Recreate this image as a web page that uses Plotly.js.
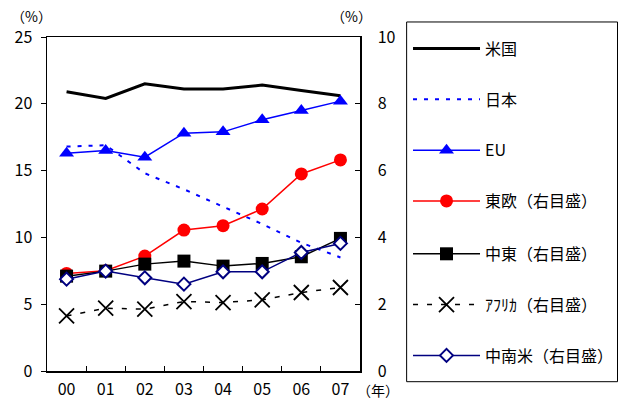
<!DOCTYPE html>
<html>
<head>
<meta charset="utf-8">
<script src="https://cdn.plot.ly/plotly-3.0.1.min.js"></script>
<style>html,body{margin:0;padding:0;background:#fff;}#chart{width:618px;height:399px;}</style>
</head>
<body>
<div id="chart"></div>
<script>
// Data
var years = ['00', '01', '02', '03', '04', '05', '06', '07'];
var usa = [20.9, 20.4, 21.5, 21.1, 21.1, 21.4, 21.0, 20.6];          // left axis
var japan = [16.8, 16.9, 14.8, 13.6, 12.3, 11.0, 9.6, 8.5];          // left axis
var eu = [16.3, 16.5, 16.0, 17.8, 17.9, 18.8, 19.5, 20.2];           // left axis
var easternEurope = [2.92, 3.0, 3.44, 4.22, 4.35, 4.85, 5.9, 6.32];  // right axis
var middleEast = [2.84, 2.99, 3.2, 3.29, 3.14, 3.22, 3.42, 3.97];    // right axis
var africa = [1.65, 1.88, 1.85, 2.08, 2.05, 2.13, 2.35, 2.5];        // right axis
var latinAmerica = [2.75, 2.99, 2.79, 2.6, 2.97, 2.97, 3.55, 3.82];  // right axis

var seriesNames = ['米国', '日本', 'EU', '東欧（右目盛）', '中東（右目盛）', 'ｱﾌﾘｶ（右目盛）', '中南米（右目盛）'];

var FONT = '"Noto Sans CJK JP", "Noto Sans", sans-serif';

var traces = [
  {x: years, y: usa, name: seriesNames[0], legend: 'legend', legendgroup: 'g1', mode: 'lines', yaxis: 'y',
   line: {color: '#000000', width: 3}},
  {x: years, y: japan, name: seriesNames[1], legend: 'legend', legendgroup: 'g2', mode: 'lines', yaxis: 'y',
   line: {color: '#0000FF', width: 2, dash: '4px,7px'}},
  {x: years, y: eu, name: seriesNames[2], legend: 'legend', legendgroup: 'g3', mode: 'lines+markers', yaxis: 'y',
   line: {color: '#0000FF', width: 1.5},
   marker: {symbol: 'triangle-up', size: 13, color: '#0000FF'}},
  {x: years, y: easternEurope, name: seriesNames[3], legend: 'legend', legendgroup: 'g4', mode: 'lines+markers', yaxis: 'y2',
   line: {color: '#FF0000', width: 1.5},
   marker: {symbol: 'circle', size: 13, color: '#FF0000'}},
  {x: years, y: middleEast, name: seriesNames[4], legend: 'legend2', legendgroup: 'g5', mode: 'lines+markers', yaxis: 'y2',
   line: {color: '#000000', width: 1.5},
   marker: {symbol: 'square', size: 13, color: '#000000'}},
  {x: years, y: africa, name: seriesNames[5], legend: 'legend2', legendgroup: 'g6', mode: 'lines+markers', yaxis: 'y2',
   line: {color: '#000000', width: 1.5, dash: '5px,9px'},
   marker: {symbol: 'x-thin-open', size: 15, color: '#000000', line: {width: 1.8, color: '#000000'}}},
  {x: years, y: latinAmerica, name: seriesNames[6], legend: 'legend2', legendgroup: 'g7', mode: 'lines+markers', yaxis: 'y2',
   line: {color: '#000080', width: 1.5},
   marker: {symbol: 'diamond', size: 10, color: '#FFFFFF', line: {width: 2, color: '#000080'}}}
];

function legendBox(yTop) {
  return {
    x: 1.1534, y: yTop, xanchor: 'left', yanchor: 'top',
    bgcolor: 'rgba(0,0,0,0)', borderwidth: 0,
    tracegroupgap: 27, itemwidth: 67, traceorder: 'grouped',
    font: {family: FONT, size: 16, color: '#000000'}
  };
}

var layout = {
  width: 618, height: 399,
  margin: {l: 47, r: 258, t: 37, b: 28, pad: 0, autoexpand: false},
  paper_bgcolor: '#FFFFFF', plot_bgcolor: '#FFFFFF',
  font: {family: FONT, size: 16, color: '#000000'},
  showlegend: true,
  legend: legendBox(1.016),
  legend2: legendBox(0.4015),
  xaxis: {
    type: 'category', categoryorder: 'array', categoryarray: years,
    range: [-0.5, 7.5],
    showline: true, mirror: true, linecolor: '#000000', linewidth: 1.5,
    ticks: 'inside', ticklen: 5, tickcolor: '#000000', tickson: 'boundaries',
    showgrid: false, zeroline: false, ticklabelstandoff: 3,
    tickfont: {family: FONT, size: 16, color: '#000000'}
  },
  yaxis: {
    range: [0, 25], dtick: 5, tick0: 0,
    showline: true, linecolor: '#000000', linewidth: 1.5,
    ticks: 'outside', ticklen: 5, tickcolor: '#000000',
    showgrid: false, zeroline: false, ticklabelstandoff: 5,
    tickfont: {family: FONT, size: 16, color: '#000000'}
  },
  yaxis2: {
    overlaying: 'y', side: 'right',
    range: [0, 10], dtick: 2, tick0: 0,
    showline: true, linecolor: '#000000', linewidth: 1.5,
    ticks: 'inside', ticklen: 5, tickcolor: '#000000',
    showgrid: false, zeroline: false, ticklabelstandoff: 13,
    tickfont: {family: FONT, size: 16, color: '#000000'}
  },
  shapes: [
    {type: 'rect', xref: 'paper', yref: 'paper',
     x0: 1.149, x1: 1.8227, y0: -0.032, y1: 1.045,
     line: {color: '#000000', width: 1}, fillcolor: 'rgba(0,0,0,0)'}
  ],
  annotations: [
    {text: '（%）', xref: 'paper', yref: 'paper', x: -0.051, y: 1.0629, xanchor: 'center', yanchor: 'middle',
     showarrow: false, borderpad: 0, font: {family: FONT, size: 14, color: '#000000'}},
    {text: '（%）', xref: 'paper', yref: 'paper', x: 0.974, y: 1.0629, xanchor: 'center', yanchor: 'middle',
     showarrow: false, borderpad: 0, font: {family: FONT, size: 14, color: '#000000'}},
    {text: '（年）', xref: 'paper', yref: 'paper', x: 1.0575, y: -0.057, xanchor: 'center', yanchor: 'middle',
     showarrow: false, borderpad: 0, font: {family: FONT, size: 14, color: '#000000'}}
  ]
};

Plotly.newPlot('chart', traces, layout, {displayModeBar: false, staticPlot: true});
</script>
</body>
</html>
